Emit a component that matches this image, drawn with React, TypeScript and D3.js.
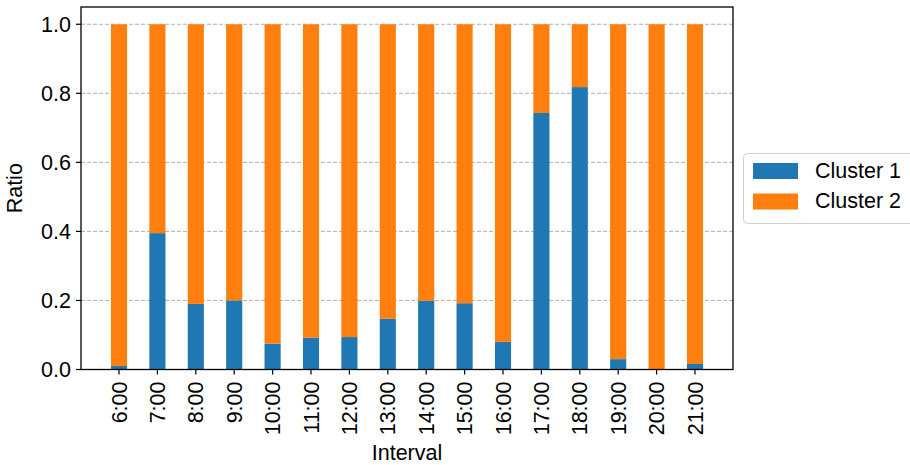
import React from "react";
import * as d3 from "d3";

const intervals = ["6:00", "7:00", "8:00", "9:00", "10:00", "11:00", "12:00", "13:00", "14:00", "15:00", "16:00", "17:00", "18:00", "19:00", "20:00", "21:00"];
const cluster1 = [0.01, 0.395, 0.19, 0.2, 0.075, 0.092, 0.094, 0.147, 0.199, 0.192, 0.08, 0.743, 0.818, 0.03, 0.0, 0.016];
const cluster2 = cluster1.map((v) => 1 - v);
const seriesNames = ["Cluster 1", "Cluster 2"];
const seriesColors = ["#1f77b4", "#ff7f0e"];
const yTicks = [0, 0.2, 0.4, 0.6, 0.8, 1.0];

const W = 910;
const H = 465;
const left = 81;
const right = 733;
const top = 7;
const bottom = 369.5;
const font = "'Liberation Sans', Arial, sans-serif";
const fs = 21.5;

export default function App() {
  const n = intervals.length;
  const x = d3.scaleLinear().domain([-0.99, n - 1 + 0.99]).range([left, right]);
  const y = d3.scaleLinear().domain([0, 1.05]).range([bottom, top]);
  const barW = x(0.42) - x(0);

  const rows = intervals.map((k, i) => ({ k, c1: cluster1[i], c2: cluster2[i] }));
  const stack = d3.stack<any>().keys(["c1", "c2"])(rows);

  return (
    <svg width={W} height={H} style={{ position: "absolute", left: 0, top: 0, fontFamily: font }}>
      <rect x={0} y={0} width={W} height={H} fill="#fff" />
      {/* horizontal grid */}
      {yTicks.map((t) => (
        <line key={"g" + t} x1={left} x2={right} y1={y(t)} y2={y(t)} stroke="#b0b0b0" strokeWidth={1} strokeDasharray="4,2" />
      ))}
      {/* stacked bars */}
      {stack.map((layer, li) =>
        layer.map((d, i) => (
          <rect
            key={li + "-" + i}
            x={x(i) - barW / 2}
            width={barW}
            y={y(d[1])}
            height={Math.max(0, y(d[0]) - y(d[1]))}
            fill={seriesColors[li]}
          />
        ))
      )}
      {/* frame */}
      <rect x={left} y={top} width={right - left} height={bottom - top} fill="none" stroke="#000" strokeWidth={1.3} />
      {/* y axis */}
      {yTicks.map((t) => (
        <g key={"y" + t}>
          <line x1={left - 5} x2={left} y1={y(t)} y2={y(t)} stroke="#000" strokeWidth={1.2} />
          <text x={71} y={y(t)} dy="0.35em" textAnchor="end" fontSize={fs} fill="#000">
            {t.toFixed(1)}
          </text>
        </g>
      ))}
      {/* x axis */}
      {intervals.map((k, i) => (
        <g key={"x" + k}>
          <line x1={x(i)} x2={x(i)} y1={bottom} y2={bottom + 5} stroke="#000" strokeWidth={1.2} />
          <text
            transform={`translate(${x(i)},${bottom + 12}) rotate(-90)`}
            textAnchor="end"
            dy="0.35em"
            fontSize={fs}
            fill="#000"
          >
            {k}
          </text>
        </g>
      ))}
      <text x={(left + right) / 2} y={460} textAnchor="middle" fontSize={fs} fill="#000">
        Interval
      </text>
      <text transform={`translate(21.5,${(top + bottom) / 2}) rotate(-90)`} textAnchor="middle" fontSize={fs} fill="#000">
        Ratio
      </text>
      {/* legend */}
      <rect x={743.5} y={153.5} width={172} height={70} rx={4} fill="#fff" stroke="#d0d0d0" strokeWidth={1} />
      {seriesNames.map((s, i) => (
        <g key={s}>
          <rect x={753} y={163 + i * 30.5} width={45} height={16} fill={seriesColors[i]} />
          <text x={815} y={177.5 + i * 30.5} fontSize={fs} fill="#000">
            {s}
          </text>
        </g>
      ))}
    </svg>
  );
}
